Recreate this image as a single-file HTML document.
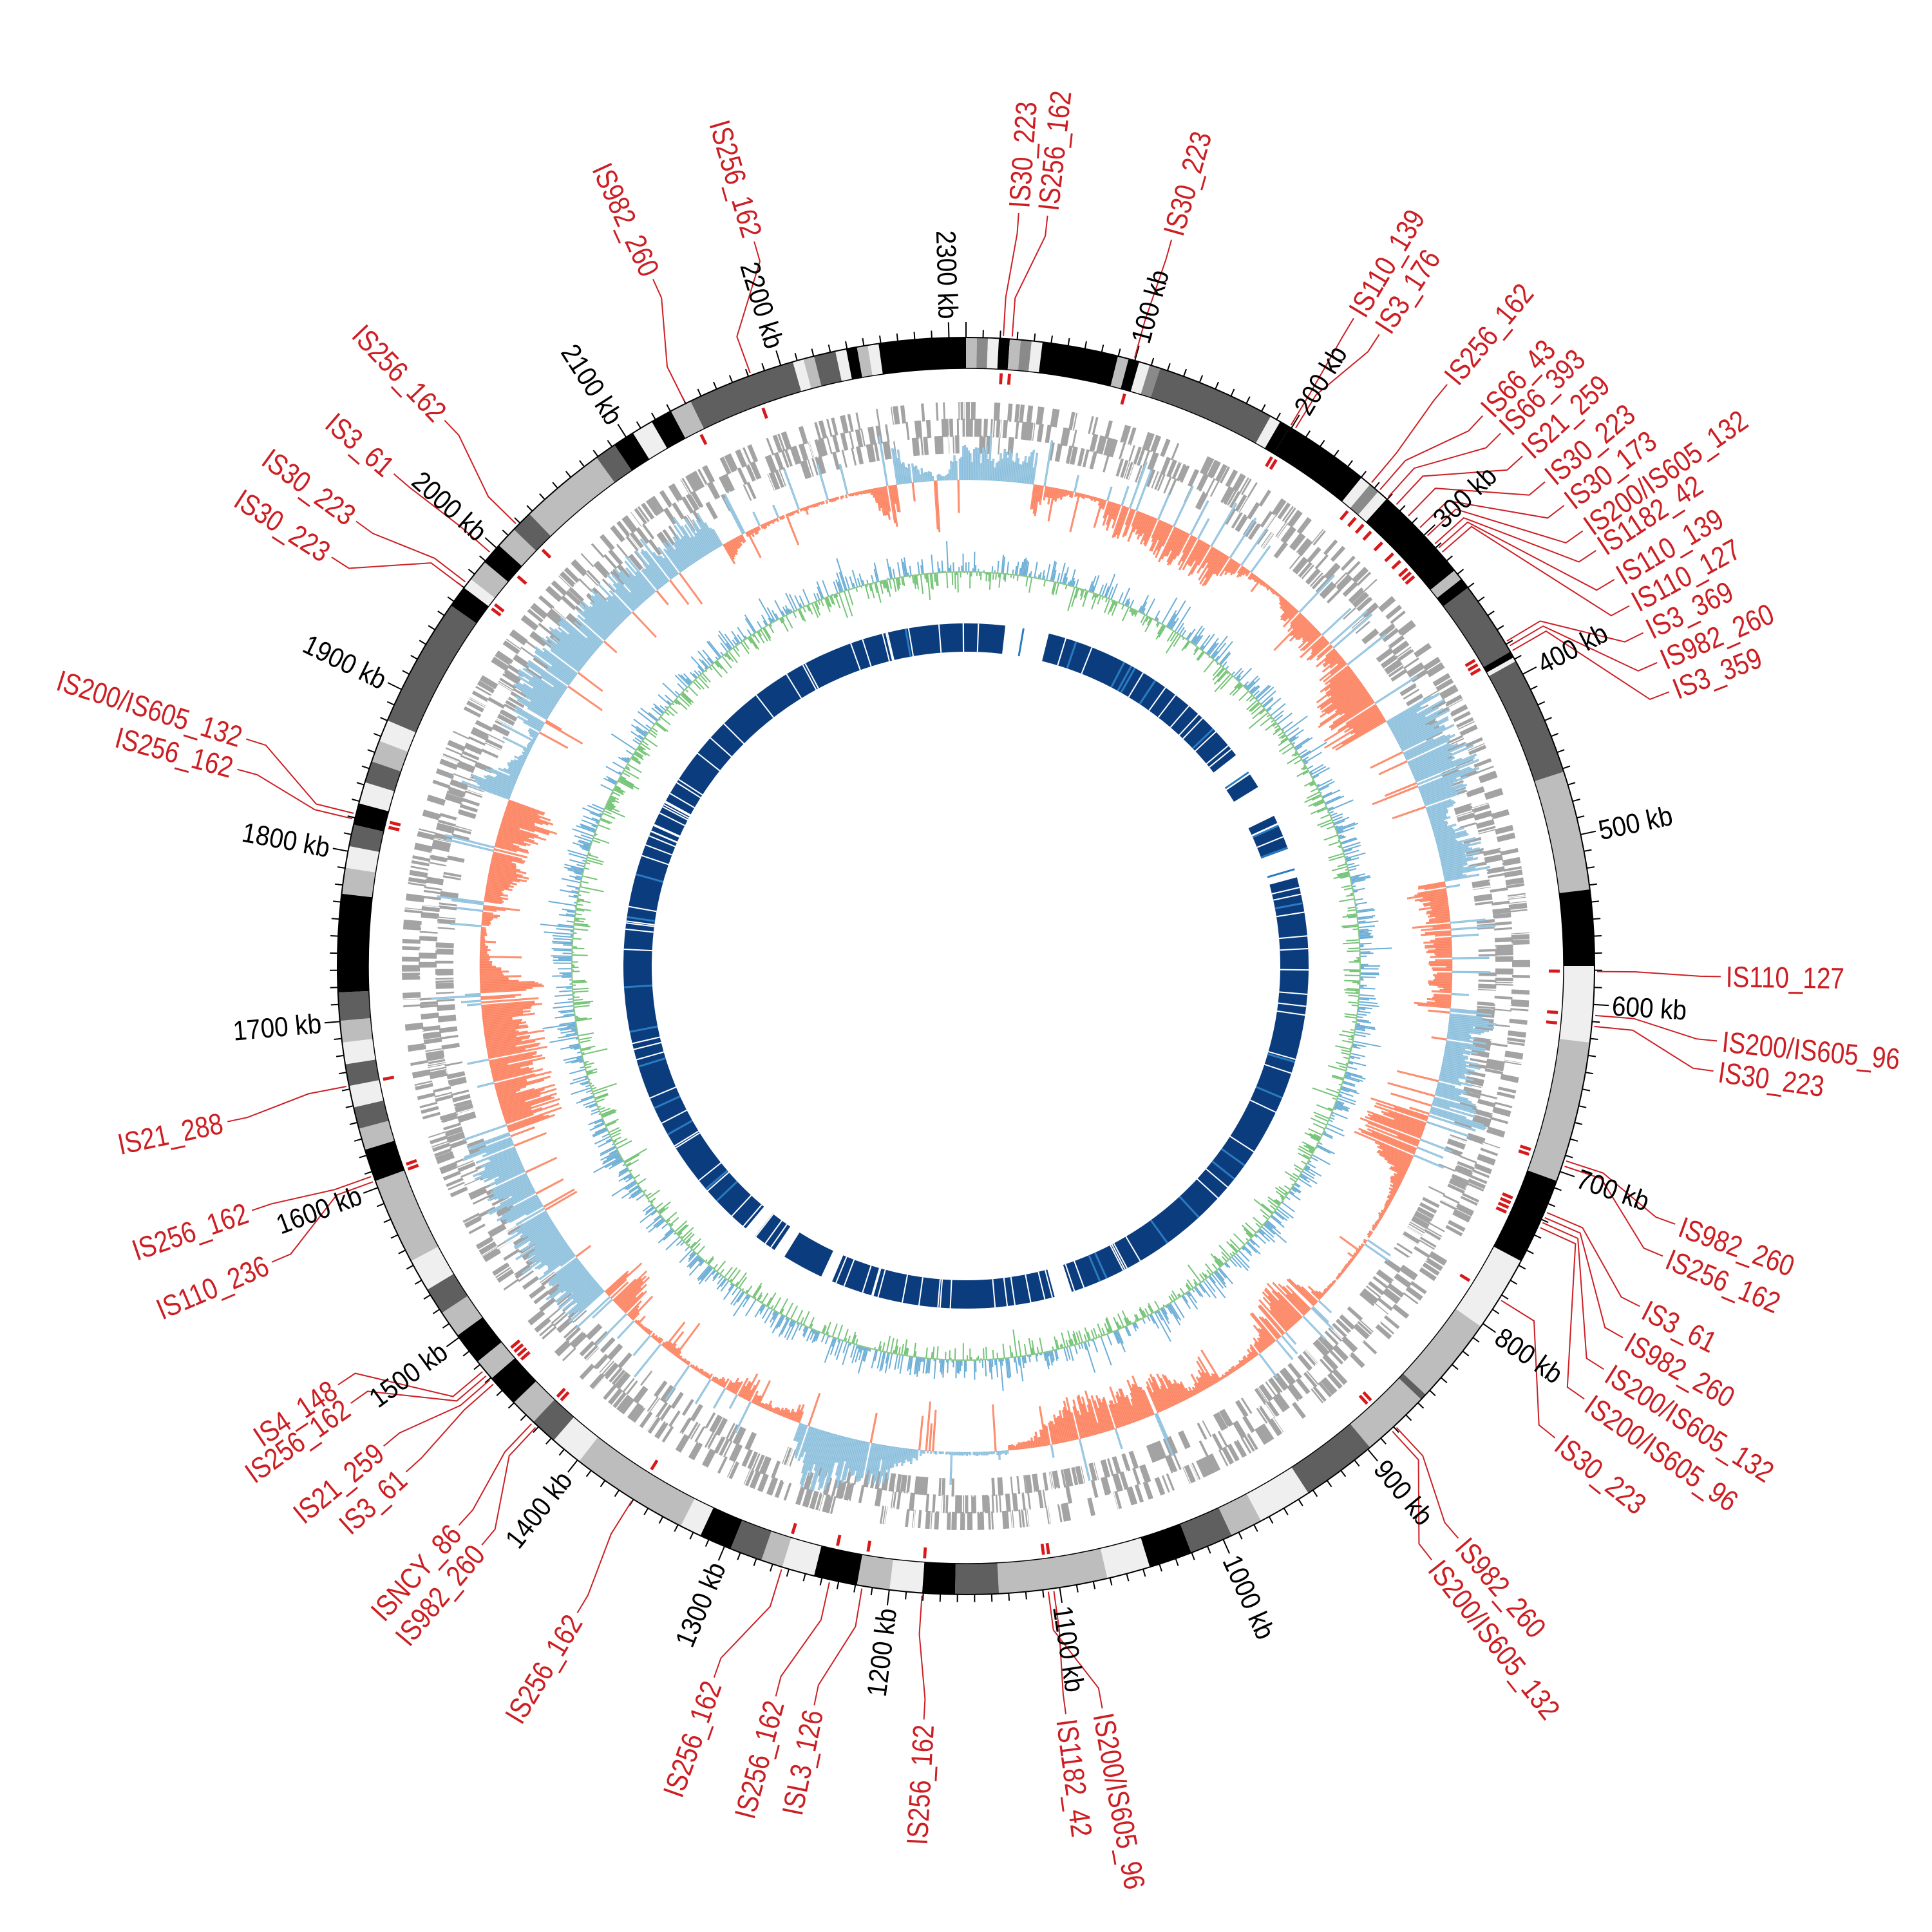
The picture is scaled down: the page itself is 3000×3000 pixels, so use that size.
<!DOCTYPE html>
<html><head><meta charset="utf-8">
<style>
html,body{margin:0;padding:0;background:#fff;}
svg{display:block;}
.l{font-family:"Liberation Sans Narrow","Liberation Sans",sans-serif;font-size:46px;fill:#cc1f24;}
.k{font-family:"Liberation Sans",sans-serif;font-size:43px;fill:#000;}
.e{text-anchor:end;}
</style></head>
<body>
<svg id="s" width="3000" height="3000" viewBox="0 0 3000 3000" xmlns="http://www.w3.org/2000/svg">
<rect width="3000" height="3000" fill="#fff"/>
<g id="gfx"></g>
<g class="k">
<text transform="rotate(-74.42 1500 1500) translate(2505 1515) scale(0.9 1)">100 kb</text>
<text transform="rotate(-58.83 1500 1500) translate(2505 1515) scale(0.9 1)">200 kb</text>
<text transform="rotate(-43.25 1500 1500) translate(2505 1515) scale(0.9 1)">300 kb</text>
<text transform="rotate(-27.66 1500 1500) translate(2505 1515) scale(0.9 1)">400 kb</text>
<text transform="rotate(-12.08 1500 1500) translate(2505 1515) scale(0.9 1)">500 kb</text>
<text transform="rotate(3.51 1500 1500) translate(2505 1515) scale(0.9 1)">600 kb</text>
<text transform="rotate(19.09 1500 1500) translate(2505 1515) scale(0.9 1)">700 kb</text>
<text transform="rotate(34.68 1500 1500) translate(2505 1515) scale(0.9 1)">800 kb</text>
<text transform="rotate(50.26 1500 1500) translate(2505 1515) scale(0.9 1)">900 kb</text>
<text transform="rotate(65.84 1500 1500) translate(2505 1515) scale(0.9 1)">1000 kb</text>
<text transform="rotate(81.43 1500 1500) translate(2505 1515) scale(0.9 1)">1100 kb</text>
<text class="e" transform="rotate(-82.99 1500 1500) translate(495 1515) scale(0.9 1)">1200 kb</text>
<text class="e" transform="rotate(-67.40 1500 1500) translate(495 1515) scale(0.9 1)">1300 kb</text>
<text class="e" transform="rotate(-51.82 1500 1500) translate(495 1515) scale(0.9 1)">1400 kb</text>
<text class="e" transform="rotate(-36.23 1500 1500) translate(495 1515) scale(0.9 1)">1500 kb</text>
<text class="e" transform="rotate(-20.65 1500 1500) translate(495 1515) scale(0.9 1)">1600 kb</text>
<text class="e" transform="rotate(-5.06 1500 1500) translate(495 1515) scale(0.9 1)">1700 kb</text>
<text class="e" transform="rotate(10.52 1500 1500) translate(495 1515) scale(0.9 1)">1800 kb</text>
<text class="e" transform="rotate(26.10 1500 1500) translate(495 1515) scale(0.9 1)">1900 kb</text>
<text class="e" transform="rotate(41.69 1500 1500) translate(495 1515) scale(0.9 1)">2000 kb</text>
<text class="e" transform="rotate(57.27 1500 1500) translate(495 1515) scale(0.9 1)">2100 kb</text>
<text class="e" transform="rotate(72.86 1500 1500) translate(495 1515) scale(0.9 1)">2200 kb</text>
<text class="e" transform="rotate(88.44 1500 1500) translate(495 1515) scale(0.9 1)">2300 kb</text>
</g>
<g class="l">
<text transform="rotate(-86.0 1500 1500) translate(2680 1516) scale(0.84 1)">IS30_223</text>
<text transform="rotate(-83.8 1500 1500) translate(2680 1516) scale(0.84 1)">IS256_162</text>
<text transform="rotate(-74.2 1500 1500) translate(2680 1516) scale(0.84 1)">IS30_223</text>
<text transform="rotate(-59.1 1500 1500) translate(2680 1516) scale(0.84 1)">IS110_139</text>
<text transform="rotate(-56.8 1500 1500) translate(2680 1516) scale(0.84 1)">IS3_176</text>
<text transform="rotate(-50.4 1500 1500) translate(2680 1516) scale(0.84 1)">IS256_162</text>
<text transform="rotate(-46.8 1500 1500) translate(2680 1516) scale(0.84 1)">IS66_43</text>
<text transform="rotate(-44.9 1500 1500) translate(2680 1516) scale(0.84 1)">IS66_393</text>
<text transform="rotate(-42.5 1500 1500) translate(2680 1516) scale(0.84 1)">IS21_259</text>
<text transform="rotate(-39.9 1500 1500) translate(2680 1516) scale(0.84 1)">IS30_223</text>
<text transform="rotate(-37.6 1500 1500) translate(2680 1516) scale(0.84 1)">IS30_173</text>
<text transform="rotate(-35.2 1500 1500) translate(2680 1516) scale(0.84 1)">IS200/IS605_132</text>
<text transform="rotate(-33.4 1500 1500) translate(2680 1516) scale(0.84 1)">IS1182_42</text>
<text transform="rotate(-30.8 1500 1500) translate(2680 1516) scale(0.84 1)">IS110_139</text>
<text transform="rotate(-28.5 1500 1500) translate(2680 1516) scale(0.84 1)">IS110_127</text>
<text transform="rotate(-26.2 1500 1500) translate(2680 1516) scale(0.84 1)">IS3_369</text>
<text transform="rotate(-23.7 1500 1500) translate(2680 1516) scale(0.84 1)">IS982_260</text>
<text transform="rotate(-21.3 1500 1500) translate(2680 1516) scale(0.84 1)">IS3_359</text>
<text transform="rotate(0.8 1500 1500) translate(2680 1516) scale(0.84 1)">IS110_127</text>
<text transform="rotate(5.7 1500 1500) translate(2680 1516) scale(0.84 1)">IS200/IS605_96</text>
<text transform="rotate(8 1500 1500) translate(2680 1516) scale(0.84 1)">IS30_223</text>
<text transform="rotate(20 1500 1500) translate(2680 1516) scale(0.84 1)">IS982_260</text>
<text transform="rotate(22.6 1500 1500) translate(2680 1516) scale(0.84 1)">IS256_162</text>
<text transform="rotate(26.8 1500 1500) translate(2680 1516) scale(0.84 1)">IS3_61</text>
<text transform="rotate(29.5 1500 1500) translate(2680 1516) scale(0.84 1)">IS982_260</text>
<text transform="rotate(32.3 1500 1500) translate(2680 1516) scale(0.84 1)">IS200/IS605_132</text>
<text transform="rotate(35 1500 1500) translate(2680 1516) scale(0.84 1)">IS200/IS605_96</text>
<text transform="rotate(38.7 1500 1500) translate(2680 1516) scale(0.84 1)">IS30_223</text>
<text transform="rotate(49.3 1500 1500) translate(2680 1516) scale(0.84 1)">IS982_260</text>
<text transform="rotate(51.9 1500 1500) translate(2680 1516) scale(0.84 1)">IS200/IS605_132</text>
<text transform="rotate(79.6 1500 1500) translate(2680 1516) scale(0.84 1)">IS200/IS605_96</text>
<text transform="rotate(82.4 1500 1500) translate(2680 1516) scale(0.84 1)">IS1182_42</text>
<text class="e" transform="rotate(-86.8 1500 1500) translate(320 1516) scale(0.84 1)">IS256_162</text>
<text class="e" transform="rotate(-78.4 1500 1500) translate(320 1516) scale(0.84 1)">ISL3_126</text>
<text class="e" transform="rotate(-75.4 1500 1500) translate(320 1516) scale(0.84 1)">IS256_162</text>
<text class="e" transform="rotate(-70.5 1500 1500) translate(320 1516) scale(0.84 1)">IS256_162</text>
<text class="e" transform="rotate(-59 1500 1500) translate(320 1516) scale(0.84 1)">IS256_162</text>
<text class="e" transform="rotate(-50.1 1500 1500) translate(320 1516) scale(0.84 1)">IS982_260</text>
<text class="e" transform="rotate(-47.8 1500 1500) translate(320 1516) scale(0.84 1)">ISNCY_86</text>
<text class="e" transform="rotate(-42.1 1500 1500) translate(320 1516) scale(0.84 1)">IS3_61</text>
<text class="e" transform="rotate(-39.5 1500 1500) translate(320 1516) scale(0.84 1)">IS21_259</text>
<text class="e" transform="rotate(-35.4 1500 1500) translate(320 1516) scale(0.84 1)">IS256_162</text>
<text class="e" transform="rotate(-33.7 1500 1500) translate(320 1516) scale(0.84 1)">IS4_148</text>
<text class="e" transform="rotate(-23.1 1500 1500) translate(320 1516) scale(0.84 1)">IS110_236</text>
<text class="e" transform="rotate(-18.9 1500 1500) translate(320 1516) scale(0.84 1)">IS256_162</text>
<text class="e" transform="rotate(-11.9 1500 1500) translate(320 1516) scale(0.84 1)">IS21_288</text>
<text class="e" transform="rotate(15.1 1500 1500) translate(320 1516) scale(0.84 1)">IS256_162</text>
<text class="e" transform="rotate(17.5 1500 1500) translate(320 1516) scale(0.84 1)">IS200/IS605_132</text>
<text class="e" transform="rotate(32.8 1500 1500) translate(320 1516) scale(0.84 1)">IS30_223</text>
<text class="e" transform="rotate(36.1 1500 1500) translate(320 1516) scale(0.84 1)">IS30_223</text>
<text class="e" transform="rotate(40.7 1500 1500) translate(320 1516) scale(0.84 1)">IS3_61</text>
<text class="e" transform="rotate(46.3 1500 1500) translate(320 1516) scale(0.84 1)">IS256_162</text>
<text class="e" transform="rotate(65.5 1500 1500) translate(320 1516) scale(0.84 1)">IS982_260</text>
<text class="e" transform="rotate(73.7 1500 1500) translate(320 1516) scale(0.84 1)">IS256_162</text>
</g>
</svg>
<script>
(function(){
var seed=12345;function rnd(){seed|=0;seed=seed+0x6D2B79F5|0;var t=Math.imul(seed^seed>>>15,1|seed);t=t+Math.imul(t^t>>>7,61|t)^t;return((t^t>>>14)>>>0)/4294967296;}
function pt(r,a){var t=a*Math.PI/180;return [(1500+r*Math.sin(t)).toFixed(1),(1500-r*Math.cos(t)).toFixed(1)];}
function arc(r1,r2,a1,a2){var lg=(a2-a1)>180?1:0;var p1=pt(r2,a1),p2=pt(r2,a2),p3=pt(r1,a2),p4=pt(r1,a1);
return 'M'+p1+'A'+r2+','+r2+' 0 '+lg+' 1 '+p2+'L'+p3+'A'+r1+','+r1+' 0 '+lg+' 0 '+p4+'Z';}
function quad(r1,r2,a1,a2){var a=pt(r1,a1),b=pt(r2,a1),c=pt(r2,a2),d=pt(r1,a2);return 'M'+a+'L'+b+'L'+c+'L'+d+'Z';}
var out=[];
var K='#000',D='#5f5f5f',G='#bdbdbd',W='#efefef',M='#8a8a8a';
var bands=[[0,1,G],[1,2,M],[2,3,W],[3,4,K],[4,5,G],[5,6,M],[6,7,W],[7,14,K],[14,15,G],[15,16,K],[16,17,W],[17,18,M],[18,29,D],[29,30,W],[30,31,K],[31,39,K],[39,40,W],[40,41,M],[41,42,W],[42,51,K],[51,52,G],[52,53,K],[53,60,D],[60,60.6,K],[60.6,61,W],[61,72,D],[72,83,G],[83,90,K],[90,97,W],[97,110,G],[110,118,K],[118,125,W],[125,133,G],[133,133.6,D],[133.6,140,G],[140,147,D],[147,152,W],[152,155,G],[155,159,D],[159,163,K],[163,167,W],[167,177,G],[177,181,D],[181,184,K],[184,187,W],[187,190,G],[190,194,K],[194,197,W],[197,199,G],[199,202,D],[202,205,K],[205,207,W],[207,218,G],[218,221,W],[221,223.5,D],[223.5,226,G],[226,229,K],[229,231,G],[231,234,K],[234,236.5,G],[236.5,239,D],[239,242,W],[242,250,G],[250,253,K],[253,255,G],[255,257,D],[257,259,W],[259,261,D],[261,263,W],[263,265,G],[265,267.6,D],[267.6,276.6,K],[276.6,279,G],[279,281,W],[281,283,D],[283,285,K],[285,287,W],[287,289,D],[289,291,G],[291,293,W],[293,305,D],[305,307,K],[307,308,W],[308,310,G],[310,312,K],[312,314,G],[314,316,D],[316,324,G],[324,326,D],[326,328,K],[328,330,W],[330,332,K],[332,334,G],[334,344,D],[344,345,W],[345,346,G],[346,348,D],[348,349,W],[349,350,K],[350,351,G],[351,352,W],[352,360,K]];
bands.forEach(function(b){out.push('<path d="'+arc(928,976,b[0],b[1])+'" fill="'+b[2]+'"/>');});
out.push('<circle cx="1500" cy="1500" r="976" fill="none" stroke="#000" stroke-width="2"/>');
out.push('<circle cx="1500" cy="1500" r="928" fill="none" stroke="#000" stroke-width="1.5"/>');
var dpk=0.155844;var tk='';
for(var k=0;k<=2310;k+=10){var a=k*dpk;var big=(k%100==0);var p=pt(976,a),q=pt(big?1000:988,a);tk+='M'+p+'L'+q;}
out.push('<path d="'+tk+'" stroke="#000" stroke-width="2" fill="none"/>');
// gene ring: staggered blocks
var gp='';var a=0;var tr=0;
while(a<360){var len=0.15+rnd()*0.6;tr=(tr+1+Math.floor(rnd()*2))%3;var r1=796+tr*26;
if(rnd()<0.9)gp+=quad(r1,r1+28,a,a+len);a+=len*0.55+rnd()*0.15;}
out.push('<path d="'+gp+'" fill="#a3a3a3"/>');
var gl='';for(var i=0;i<500;i++){var aa=rnd()*360;var r=796+Math.floor(rnd()*3)*26;var p=pt(r,aa),q=pt(r+28,aa);gl+='M'+p+'L'+q;}
out.push('<path d="'+gl+'" stroke="#fff" stroke-width="1.5" fill="none"/>');
// GC skew
var reg=[[0,8,1],[8,60,-1],[60,80,1],[80,95,-1],[95,108,1],[108,160,-1],[160,175,-1],[175,200,1],[200,228,-1],[228,250,1],[250,290,-1],[290,330,1],[330,352,-1],[352,360,1]];
function sgn(x){for(var i=0;i<reg.length;i++)if(x>=reg[i][0]&&x<reg[i][1])return reg[i][2];return 1;}
var pos='',neg='';var env=0.5,tgt=0.5;
for(var i=0;i<1800;i++){var a1=i*0.2,a2=a1+0.2;var s=sgn(a1);
if(rnd()<0.04)tgt=rnd()<0.3?0.05:0.3+rnd()*0.7;
env=0.9*env+0.1*tgt;
var v=env*95*(0.55+rnd()*0.6);
if(rnd()<0.08)v=v*0.3+rnd()*60;
if(rnd()<0.07){s=-s;v=20+rnd()*60;}
var r0=755;
if(v<3)continue;
if(s>0)pos+=quad(r0,r0+v,a1,a2);else neg+=quad(r0-v,r0,a1,a2);}
out.push('<path d="'+pos+'" fill="#9ecae1" stroke="#7db6dc" stroke-width="0.5"/>');
out.push('<path d="'+neg+'" fill="#fc9272" stroke="#fb7a5a" stroke-width="0.5"/>');
// GC content
var bl='',gr='';
for(var i=0;i<1800;i++){var a1=i*0.2;var v=(rnd()-0.45)*60;if(rnd()<0.1)v*=1.6;
if(v>0){var p=pt(612,a1),q=pt(612+v,a1);bl+='M'+p+'L'+q;}else{var p=pt(612+v,a1),q=pt(612,a1);gr+='M'+p+'L'+q;}}
out.push('<path d="'+gr+'" stroke="#74c476" stroke-width="2" fill="none"/>');
out.push('<path d="'+bl+'" stroke="#6baed6" stroke-width="2" fill="none"/>');
out.push('<circle cx="1500" cy="1500" r="612" fill="none" stroke="#8cc98a" stroke-width="2"/>');
var blue=[[-140,6.6],[14,52],[56,58.5],[64,70],[75,162],[165,203],[205,212],[214,218]];
blue.forEach(function(b){out.push('<path d="'+arc(488,532,b[0],b[1])+'" fill="#0b3d7e"/>');});
var wl='';for(var i=0;i<110;i++){var aa=rnd()*360;var p=pt(488,aa),q=pt(532,aa);wl+='M'+p+'L'+q;}
out.push('<path d="'+wl+'" stroke="#fff" stroke-width="2" fill="none"/>');
var lb='';for(var i=0;i<30;i++){var aa=rnd()*360;var p=pt(488,aa),q=pt(532,aa);lb+='M'+p+'L'+q;}
out.push('<path d="'+lb+'" stroke="#2b7bbf" stroke-width="3" fill="none"/>');
var C=[[4.0,3.4],[6.2,4.2],[15.8,15.5],[30.9,31],[33.2,31.5],[39.6,40],[43.2,41],[45.1,42],[47.5,43],[50.1,44.5],[52.4,46],[54.8,47],[56.6,48],[59.2,48.5],[61.5,49],[63.8,59],[66.3,59.5],[68.7,60],[90.8,90.5],[95.7,94.5],[98,95.5],[110,108],[112.6,108.5],[116.8,113],[119.5,113.5],[122.3,114],[125,114.5],[128.7,122],[139.3,137],[141.9,137.5],[169.6,172.5],[172.4,172],[183.2,184],[191.6,189.5],[194.6,192.5],[199.5,197],[211,212],[219.9,223],[222.2,223.5],[227.9,228.5],[230.5,229],[234.6,229.5],[236.3,230],[246.9,250],[251.1,250.5],[258.1,259],[285.1,283.5],[287.5,284],[302.8,307],[306.1,307.5],[310.7,311],[316.3,314.5],[335.5,333.5],[343.7,340]];
var cl='',mk='';
C.forEach(function(c){var l=c[0],f=c[1];cl+='M'+pt(980,f)+'L'+pt(1040,f)+'L'+pt(1140,l)+'L'+pt(1172,l);
mk+=quad(905,922,f-0.15,f+0.15);});
out.push('<path d="'+cl+'" stroke="#cc1f24" stroke-width="2" fill="none"/>');
out.push('<path d="'+mk+'" fill="#d7191c"/>');
document.getElementById('gfx').innerHTML=out.join('');
})();
</script>
</body></html>
